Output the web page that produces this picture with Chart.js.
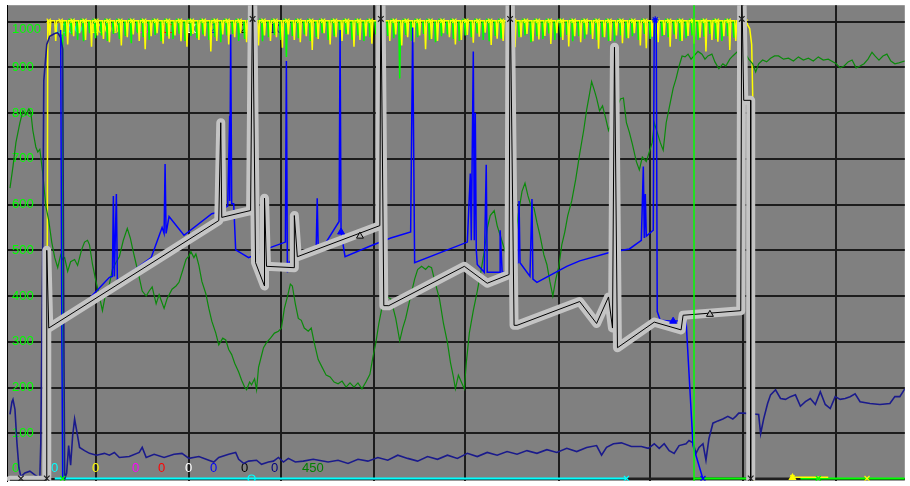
<!DOCTYPE html>
<html>
<head>
<meta charset="utf-8">
<title>Trend</title>
<script src="https://cdn.jsdelivr.net/npm/chart.js@4.4.1/dist/chart.umd.min.js"></script>
<style>
  html, body { margin: 0; padding: 0; background: #fff; }
  canvas { display: block; }
</style>
</head>
<body>
<canvas id="trend" width="910" height="486"></canvas>
<script>
// grid positions (x in samples) and value ticks
const gridX = [97, 190, 283, 376, 468, 562, 654, 747, 841];
const yTicks = [0, 100, 200, 300, 400, 500, 600, 700, 800, 900, 1000];

// main setpoint trace (thick gray)
const grayTrace = [[10,-3],[47,-3],[47,500],[49,330],[220,565],[222,779],[223,572],[252,587],[254,1080],[257,473],[266,422],[266,614],[268,465],[296,462],[296,576],[299,486],[382,554],[383,1080],[386,379],[391,379],[467,465],[490,428],[512,447],[513,1080],[517,336],[520,336],[583,388],[600,340],[612,398],[616,330],[618,944],[621,287],[658,343],[685,326],[687,358],[745,368],[746,1080],[748,828],[755,828],[755,-10]];

const blueTrace = [[61,982],[62,394],[63,0],[63,null],[87,388],[110,441],[113,443],[114,619],[115,443],[117,623],[118,437],[122,437],[152,484],[163,550],[165,537],[166,689],[167,537],[170,574],[185,533],[213,580],[217,582],[229,597],[231,794],[231,608],[232,972],[233,602],[235,602],[237,501],[250,484],[273,507],[287,518],[288,914],[289,452],[291,475],[318,505],[319,614],[320,507],[328,518],[341,563],[342,982],[343,540],[347,486],[373,510],[393,527],[413,540],[415,987],[417,473],[470,518],[473,668],[474,522],[476,935],[477,522],[478,801],[479,501],[480,469],[487,452],[489,687],[490,452],[503,452],[503,544],[505,452],[510,452],[521,473],[522,608],[523,473],[533,443],[535,612],[536,437],[540,430],[570,465],[583,477],[613,495],[633,503],[645,522],[647,683],[648,527],[649,623],[650,531],[657,544],[658,1004],[660,1004],[661,366],[664,347],[677,345],[690,347],[697,73],[707,0]];

const navyTrace = [[10,141],[12,169],[13,174],[15,152],[17,79],[19,24],[21,5],[25,13],[30,17],[35,9],[40,2],[41,79],[43,522],[44,871],[47,950],[50,968],[55,974],[58,976],[61,965],[63,940],[64,394],[65,0],[67,13],[69,73],[71,30],[73,94],[75,131],[78,94],[80,69],[85,62],[90,56],[97,52],[105,56],[110,52],[115,58],[120,47],[130,49],[140,58],[143,69],[147,47],[155,54],[165,47],[175,54],[183,56],[190,45],[200,49],[210,41],[215,37],[220,47],[230,54],[237,58],[240,43],[245,34],[250,39],[258,41],[263,32],[270,37],[275,39],[280,47],[285,37],[290,45],[297,37],[305,39],[315,43],[330,37],[340,41],[350,34],[360,43],[370,39],[380,47],[390,41],[400,52],[410,45],[420,39],[430,49],[440,43],[450,52],[460,45],[470,56],[480,49],[490,58],[500,52],[510,60],[520,54],[530,62],[540,56],[550,64],[560,58],[570,67],[580,60],[590,69],[600,73],[605,52],[610,69],[617,77],[625,79],[635,71],[645,71],[652,67],[658,77],[663,67],[668,77],[673,62],[678,56],[683,73],[690,77],[693,84],[697,79],[700,56],[703,69],[707,77],[710,41],[713,88],[717,122],[722,127],[727,131],[732,137],[737,131],[740,137],[743,144],[748,144],[763,141],[765,99],[768,131],[772,165],[775,184],[780,195],[785,176],[790,174],[795,180],[800,184],[805,159],[810,169],[815,176],[820,163],[825,191],[830,163],[835,154],[840,180],[845,174],[850,176],[855,180],[860,186],[865,169],[875,165],[885,163],[895,165],[900,180],[905,180],[910,197]];

const greenTrace = [[10,636],[13,683],[16,736],[20,779],[23,805],[26,796],[29,809],[31,801],[33,762],[36,726],[38,715],[40,721],[43,668],[46,597],[49,565],[52,518],[55,484],[58,462],[61,490],[63,480],[65,484],[68,454],[71,475],[75,480],[78,467],[82,501],[85,518],[88,522],[90,512],[93,469],[96,437],[100,398],[103,368],[106,403],[110,426],[113,458],[117,475],[120,486],[124,522],[128,548],[131,527],[134,497],[137,469],[140,441],[143,411],[147,400],[150,411],[153,420],[157,383],[160,403],[165,373],[168,394],[173,415],[177,422],[180,430],[184,458],[187,480],[190,488],[192,497],[195,484],[197,492],[200,467],[203,432],[207,405],[210,373],[213,345],[217,319],[220,293],[224,308],[227,304],[230,283],[233,272],[236,253],[240,234],[243,216],[246,201],[248,195],[251,212],[253,206],[256,219],[258,195],[260,244],[263,270],[265,287],[268,298],[272,308],[276,319],[280,323],[283,330],[286,373],[289,398],[292,426],[294,422],[297,383],[300,351],[303,347],[306,330],[310,323],[313,330],[316,298],[320,261],[324,244],[328,227],[332,223],[336,212],[340,208],[344,214],[348,201],[352,210],[356,201],[360,210],[364,197],[368,212],[372,229],[375,266],[378,298],[381,340],[384,373],[388,400],[393,394],[398,351],[402,302],[405,330],[408,351],[413,400],[417,437],[420,458],[424,465],[428,458],[431,465],[434,462],[438,426],[442,394],[446,340],[450,298],[453,255],[456,223],[458,197],[461,227],[464,212],[467,197],[469,255],[472,319],[476,368],[480,411],[484,458],[487,497],[490,548],[493,576],[497,587],[500,554],[503,533],[507,505],[510,484],[513,469],[517,501],[521,576],[525,629],[528,647],[531,619],[534,597],[537,593],[540,561],[543,533],[547,490],[550,469],[553,432],[556,400],[559,437],[562,465],[565,512],[568,540],[571,576],[575,608],[579,655],[583,711],[587,762],[590,807],[593,843],[595,869],[598,848],[600,833],[603,805],[606,816],[609,790],[612,762],[615,779],[618,801],[624,831],[627,833],[630,779],[633,758],[636,732],[640,694],[643,676],[646,704],[650,694],[653,715],[656,736],[658,779],[661,758],[664,736],[667,719],[670,779],[674,822],[677,854],[680,876],[683,903],[686,925],[689,923],[692,929],[695,918],[698,925],[702,935],[706,929],[709,918],[712,925],[716,929],[719,912],[723,897],[727,908],[730,903],[734,918],[737,925],[741,933],[745,940],[750,929],[753,918],[757,908],[760,890],[763,908],[767,916],[771,912],[775,920],[779,925],[783,925],[788,918],[793,920],[798,914],[803,923],[808,916],[813,920],[818,914],[823,923],[828,916],[833,918],[838,912],[841,908],[845,899],[849,903],[853,912],[857,916],[861,899],[865,903],[869,908],[873,918],[877,933],[880,925],[884,916],[888,925],[892,929],[896,914],[900,908],[904,910],[910,914]];

// limit channels sitting on the top rail, one dip reading every 6 samples
const topRail = 1002;
const topStep = 6;
const yellowTopStart = 50;
const yellowDips = [
  965,958,972,950,968,975,960,945,970,962,
  955,978,948,966,972,958,940,968,975,952,
  963,970,957,945,973,960,968,935,958,972,
  950,966,975,955,962,948,970,958,966,943,
  972,960,955,968,938,962,975,950,966,958,
  972,945,960,968,952,930,965,958,972,948,
  966,955,970,940,962,958,975,966,950,960,
  971,954,967,976,949,963,958,970,944,966,
  973,957,961,969,951,975,960,946,968,955,
  972,962,941,966,958,970,953,964,975,948,
  942,967,955,971,945,962,958,969,952,965,
  935,960,956,968,938,958
];
const yellowLead = [[47,-2],[48,1002]];
const yellowTail = [[750,1000],[754,985],[756,950],[757,840],[758,-10],[758,null],[797,4],[833,4]];

const limeTopStart = 66;
const limeDips = [
  968,972,960,957,975,964,970,958,973,962,
  969,953,975,966,960,971,957,968,962,975,
  958,969,964,972,960,966,955,970,973,958,
  962,968,975,957,966,971,960,923,969,964,
  972,958,966,975,960,968,955,973,962,970,
  958,966,972,960,969,964,876,971,958,966,
  973,960,955,968,972,962,958,970,966,974,
  960,957,969,963,972,958,966,970,955,968,
  962,974,960,966,971,957,968,963,972,960,
  966,958,957,970,964,968,960,973,962,955,
  969,966,972,958,964,970,960,967,973,962,
  958,968,965
];
const limeLead = [[63,-2],[63,1002]];

// channels resting on zero
const cyanBase = [[55,1],[630,1]];
const blackBase = [[630,1],[797,1]];
const limeBase = [[698,1],[755,1],[755,null],[805,1],[910,1]];

const cursorX = [698];

// event marks
const blackMarks = [[21,1],[47,1],[254,1006],[383,1006],[513,1006],[746,1006],[755,1]];
const openTriangles = [[362,531],[714,360]];
const blueTriangles = [[343,540],[677,345]];
const channelMarks = [[253,1],[630,1],[63,1],[707,1],[659,1004],[797,3],[823,1],[872,1]];

// channel captions
const topTags = ['1000','1000','10','10','10','2','2','10'];
const bottomTags = ['0','0','0','0','0','0','0','0','450'];

const pts = arr => arr.map(([x, y]) => ({ x, y }));

// each dip becomes a narrow needle hanging from the rail
const needles = (start, dips) => {
  const out = [];
  dips.forEach((v, i) => {
    const x = start + topStep * i;
    out.push({ x: x - 1, y: topRail }, { x, y: v }, { x: x + 1, y: topRail });
  });
  return out;
};

const topColors = ['#00ffff','#ffff00','#ff00ff','#ff0000','#ffffff','#0000ff','#000000','#000080'];
const topTagX = [53, 90, 135, 160, 185, 210, 240, 269];
const bottomColors = ['#00ffff','#ffff00','#ff00ff','#ff0000','#ffffff','#0000ff','#000000','#000080','#008000'];
const bottomTagX = [51, 92, 132, 158, 185, 210, 241, 271, 302];

const panel = {
  id: 'panel',
  beforeDraw(chart) {
    const { ctx, chartArea: a } = chart;
    ctx.save();
    ctx.fillStyle = '#808080';
    ctx.fillRect(a.left, a.top, a.right - a.left, a.bottom - a.top);
    ctx.restore();
  }
};

const captions = {
  id: 'captions',
  beforeDatasetsDraw(chart) {
    const { ctx, scales: { y } } = chart;
    const topY = y.getPixelForValue(1000) + 8;
    const lowY = y.getPixelForValue(0) - 11;
    ctx.save();
    ctx.font = '13px "Liberation Sans", Arial, sans-serif';
    ctx.textBaseline = 'middle';
    ctx.textAlign = 'left';
    ctx.fillStyle = '#00ff00';
    yTicks.forEach(v => {
      let py = y.getPixelForValue(v);
      if (v === 1000) py = topY;
      if (v === 0) py = lowY;
      ctx.fillText(String(v), 12, py);
    });
    topTags.forEach((t, i) => {
      ctx.fillStyle = topColors[i];
      ctx.fillText(t, topTagX[i], topY);
    });
    bottomTags.forEach((t, i) => {
      ctx.fillStyle = bottomColors[i];
      ctx.fillText(t, bottomTagX[i], lowY);
    });
    ctx.restore();
  }
};

const line = (data, color, width, extra) => Object.assign({
  data, borderColor: color, backgroundColor: color, borderWidth: width,
  pointRadius: 0, fill: false, tension: 0, clip: 0
}, extra || {});

// rail markers on the left shoulder of every second needle
const railMarks = lead => ({
  pointStyle: 'crossRot',
  pointBorderWidth: 1.1,
  pointRadius: ctx => {
    const k = ctx.dataIndex - lead;
    return k >= 0 && k % 6 === 0 ? 3 : 0;
  }
});

new Chart(document.getElementById('trend'), {
  type: 'line',
  data: {
    datasets: [
      line(pts(cursorX.flatMap(x => [[x, -10], [x, 1046]])), '#00ff00', 1.5),
      line(pts(channelMarks), '#00ffff', 1, {
        showLine: false, pointRadius: 3.5, pointBorderWidth: 1.2,
        pointStyle: ['circle','crossRot','crossRot','crossRot','star','triangle','crossRot','crossRot'],
        pointBorderColor: ['#00ffff','#00ffff','#00ff00','#0000ff','#0000ff','#ffff00','#00ff00','#ffff00'],
        pointBackgroundColor: ['rgba(0,0,0,0)','#00ffff','#00ff00','#0000ff','#0000ff','#ffff00','#00ff00','#ffff00']
      }),
      line(pts(blueTriangles), '#0000ff', 1, { showLine: false, pointRadius: 4, pointStyle: 'triangle', pointBackgroundColor: '#0000ff' }),
      line(pts(openTriangles), '#000000', 1, { showLine: false, pointRadius: 4, pointStyle: 'triangle', pointBackgroundColor: '#b0b0b0', pointBorderWidth: 1 }),
      line(pts(blackMarks), '#202020', 1, { showLine: false, pointRadius: 4, pointStyle: 'crossRot', pointBorderWidth: 1.2 }),
      line(pts(grayTrace), '#000000', 1, { borderJoinStyle: 'round' }),
      line(pts(grayTrace), '#c4c4c4', 9, { borderJoinStyle: 'round', borderCapStyle: 'round' }),
      line(pts(blueTrace), '#0000ff', 1.5),
      line(pts(navyTrace), '#1a1a8c', 1.6),
      line(pts(greenTrace), '#0a8a0a', 1.2),
      line([...pts(yellowLead), ...needles(yellowTopStart, yellowDips), ...pts(yellowTail)], '#ffff00', 1.5, railMarks(yellowLead.length)),
      line([...pts(limeLead), ...needles(limeTopStart, limeDips)], '#00ff00', 1.5, railMarks(limeLead.length + 3)),
      line(pts(cyanBase), '#00ffff', 2),
      line(pts(limeBase), '#00ff00', 2),
      line(pts(blackBase), '#202020', 2)
    ]
  },
  options: {
    responsive: false,
    animation: false,
    devicePixelRatio: 1,
    events: [],
    layout: { padding: { left: 7, right: 0, top: 0, bottom: 0 } },
    plugins: { legend: { display: false }, tooltip: { enabled: false } },
    scales: {
      x: {
        type: 'linear', min: 7, max: 910,
        afterBuildTicks: s => { s.ticks = gridX.map(v => ({ value: v })); },
        ticks: { display: false },
        grid: { color: '#1c1c1c', lineWidth: 2, drawTicks: false },
        border: { display: false }
      },
      y: {
        type: 'linear', min: -4, max: 1036,
        afterBuildTicks: s => { s.ticks = yTicks.map(v => ({ value: v })); },
        ticks: { display: false },
        grid: { color: '#1c1c1c', lineWidth: 2, drawTicks: false },
        border: { display: true, color: '#000', width: 1 }
      }
    }
  },
  plugins: [panel, captions]
});
</script>
</body>
</html>
